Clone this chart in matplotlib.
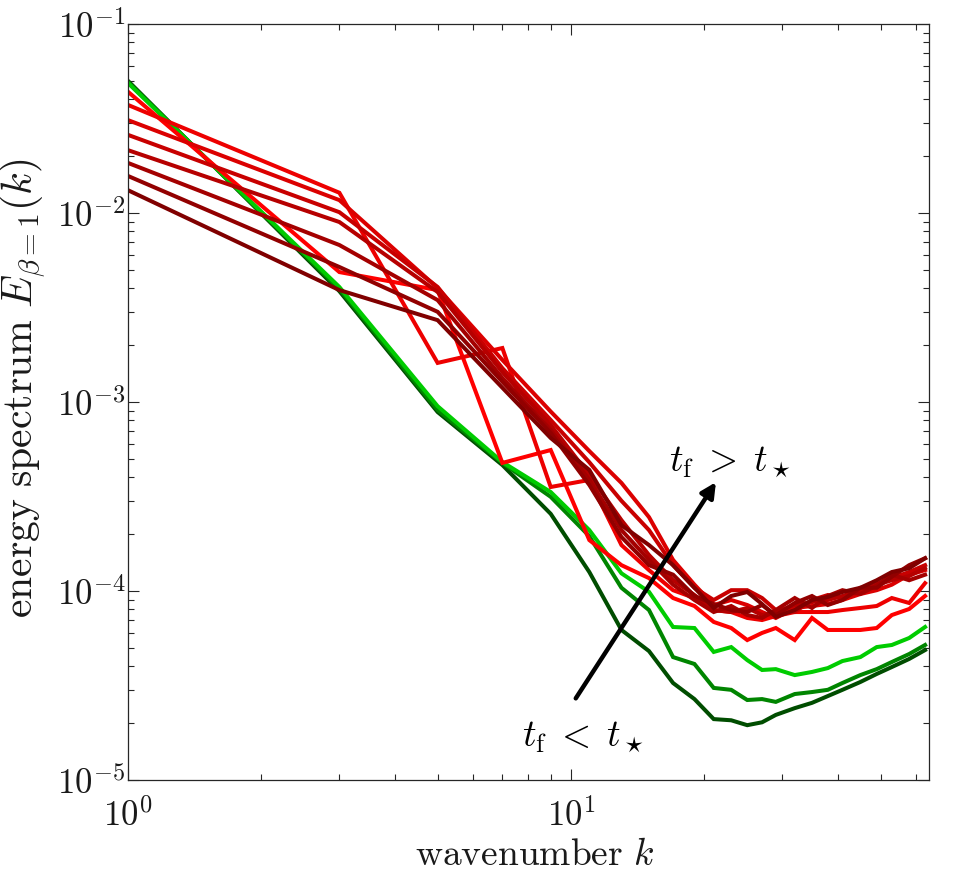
import numpy as np
import matplotlib
matplotlib.use("Agg")
import matplotlib.pyplot as plt
from matplotlib.ticker import FuncFormatter, LogLocator, NullFormatter

plt.rcParams['mathtext.fontset'] = 'cm'
plt.rcParams['font.family'] = ['DejaVu Serif']

# wavenumbers
k = [1, 3, 5, 7, 9, 11, 13, 15, 17, 19, 21, 23, 25, 27, 29, 32, 35, 38, 41, 45, 49, 53, 58, 63]

# green spectra (t_f < t_star), dark -> bright
green_dark = [5.0e-2, 3.86e-3, 8.85e-4, 4.64e-4, 2.56e-4, 1.26e-4, 6.22e-5, 4.81e-5, 3.26e-5, 2.68e-5,
              2.10e-5, 2.07e-5, 1.95e-5, 2.02e-5, 2.21e-5, 2.40e-5, 2.56e-5, 2.78e-5, 3.0e-5, 3.3e-5,
              3.64e-5, 3.96e-5, 4.37e-5, 4.87e-5]
green_mid = [4.93e-2, 3.96e-3, 9.07e-4, 4.76e-4, 3.15e-4, 1.95e-4, 1.04e-4, 7.93e-5, 4.47e-5, 4.11e-5,
             3.07e-5, 3.0e-5, 2.65e-5, 2.68e-5, 2.59e-5, 2.85e-5, 2.92e-5, 3.0e-5, 3.26e-5, 3.59e-5,
             3.86e-5, 4.21e-5, 4.64e-5, 5.18e-5]
green_bright = [4.87e-2, 4.06e-3, 9.5e-4, 4.81e-4, 3.34e-4, 2.1e-4, 1.24e-4, 9.9e-5, 6.45e-5, 6.37e-5,
                4.76e-5, 5.05e-5, 4.31e-5, 3.82e-5, 3.86e-5, 3.59e-5, 3.73e-5, 3.91e-5, 4.26e-5, 4.47e-5,
                5.05e-5, 5.18e-5, 5.64e-5, 6.45e-5]

# red spectra (t_f > t_star), bright -> dark
red_1 = [4.38e-2, 4.87e-3, 3.91e-3, 4.76e-4, 5.57e-4, 1.86e-4, 1.37e-4, 1.17e-4, 9.18e-5, 8.33e-5,
         6.86e-5, 6.37e-5, 5.5e-5, 6.0e-5, 6.37e-5, 5.5e-5, 7.2e-5, 6.22e-5, 6.22e-5, 6.22e-5,
         6.37e-5, 7.46e-5, 8.03e-5, 9.41e-5]
red_2 = [3.73e-2, 1.28e-2, 1.61e-3, 1.93e-3, 3.55e-4, 3.87e-4, 1.75e-4, 1.29e-4, 1.01e-4, 9.18e-5,
         7.93e-5, 7.74e-5, 7.2e-5, 7.02e-5, 7.37e-5, 7.74e-5, 7.74e-5, 7.74e-5, 7.93e-5, 8.13e-5,
         8.33e-5, 9.18e-5, 8.64e-5, 1.1e-4]
red_3 = [3.1e-2, 1.17e-2, 4.01e-3, 1.67e-3, 8.9e-4, 5.5e-4, 3.73e-4, 2.46e-4, 1.46e-4, 1.08e-4,
         8.43e-5, 8.96e-5, 8.43e-5, 7.74e-5, 7.2e-5, 8.13e-5, 8.33e-5, 8.53e-5, 8.96e-5, 9.64e-5,
         1.01e-4, 1.08e-4, 1.22e-4, 1.29e-4]
red_4 = [2.59e-2, 1.01e-2, 4.06e-3, 1.51e-3, 8.03e-4, 4.8e-4, 3.0e-4, 2.1e-4, 1.37e-4, 1.04e-4,
         8.96e-5, 1.01e-4, 1.01e-4, 9.18e-5, 7.93e-5, 7.74e-5, 8.96e-5, 9.52e-5, 9.18e-5, 9.88e-5,
         1.09e-4, 1.17e-4, 1.26e-4, 1.37e-4]
red_5 = [2.15e-2, 8.96e-3, 3.82e-3, 1.44e-3, 7.55e-4, 4.11e-4, 2.37e-4, 1.55e-4, 1.14e-4, 9.52e-5,
         7.93e-5, 7.74e-5, 8.13e-5, 7.46e-5, 7.74e-5, 8.43e-5, 8.74e-5, 8.96e-5, 9.41e-5, 1.01e-4,
         1.08e-4, 1.14e-4, 1.2e-4, 1.32e-4]
red_6 = [1.84e-2, 6.77e-3, 3.46e-3, 1.34e-3, 7.11e-4, 3.87e-4, 2.1e-4, 1.46e-4, 1.08e-4, 8.96e-5,
         7.74e-5, 8.33e-5, 7.46e-5, 7.2e-5, 7.93e-5, 9.18e-5, 8.13e-5, 9.41e-5, 1.01e-4, 9.64e-5,
         1.07e-4, 1.22e-4, 1.14e-4, 1.22e-4]
red_7 = [1.57e-2, 5.18e-3, 3.0e-3, 1.28e-3, 6.86e-4, 3.64e-4, 1.93e-4, 1.37e-4, 1.22e-4, 9.41e-5,
         8.53e-5, 7.93e-5, 7.74e-5, 8.43e-5, 7.46e-5, 8.64e-5, 9.41e-5, 8.43e-5, 8.96e-5, 1.04e-4,
         1.04e-4, 1.19e-4, 1.37e-4, 1.49e-4]
red_8 = [1.32e-2, 3.91e-3, 2.71e-3, 1.19e-3, 6.45e-4, 4.37e-4, 2.23e-4, 1.75e-4, 1.37e-4, 1.04e-4,
         8.13e-5, 9.41e-5, 9.88e-5, 8.53e-5, 7.29e-5, 7.93e-5, 8.96e-5, 9.3e-5, 9.88e-5, 1.04e-4,
         1.14e-4, 1.26e-4, 1.32e-4, 1.49e-4]

greens = [green_dark, green_mid, green_bright]
green_colors = [(0.0, 0.30, 0.0), (0.0, 0.52, 0.0), (0.0, 0.80, 0.0)]
reds = [red_1, red_2, red_3, red_4, red_5, red_6, red_7, red_8]
red_levels = np.linspace(1.0, 0.5, len(reds))

fig = plt.figure(figsize=(9.59, 8.75), dpi=100)
ax = fig.add_axes([128 / 959, 1 - 780 / 875, (929 - 128) / 959, (780 - 24) / 875])

lw = 2.9
for vals, c in zip(greens, green_colors):
    ax.plot(k, vals, color=c, lw=lw, solid_joinstyle='miter')
for vals, r in zip(reds, red_levels):
    ax.plot(k, vals, color=(r, 0.0, 0.0), lw=lw, solid_joinstyle='miter')

ax.set_xscale('log')
ax.set_yscale('log')
ax.set_xlim(1, 64.3)
ax.set_ylim(1e-5, 1e-1)

ax.xaxis.set_major_locator(LogLocator(base=10, numticks=10))
ax.yaxis.set_major_locator(LogLocator(base=10, numticks=10))
ax.xaxis.set_minor_locator(LogLocator(base=10, subs=np.arange(2, 10), numticks=20))
ax.yaxis.set_minor_locator(LogLocator(base=10, subs=np.arange(2, 10), numticks=20))
fmt = FuncFormatter(lambda v, p: r'$10^{%d}$' % int(round(np.log10(v))))
ax.xaxis.set_major_formatter(fmt)
ax.yaxis.set_major_formatter(fmt)
ax.xaxis.set_minor_formatter(NullFormatter())
ax.yaxis.set_minor_formatter(NullFormatter())

edge = (0.15, 0.15, 0.15)
txt = (0.1, 0.1, 0.1)
for s in ax.spines.values():
    s.set_color(edge)
    s.set_linewidth(0.9)
ax.tick_params(which='both', direction='in', top=True, right=True, color=edge, width=0.8,
               labelsize=25, labelcolor=txt)
ax.tick_params(which='major', length=8)
ax.tick_params(which='minor', length=4.5)
ax.tick_params(axis='y', which='major', pad=2)
ax.tick_params(axis='x', which='major', pad=13)

ax.set_xlabel(r'$\mathrm{wavenumber}\ k$', fontsize=27, color=txt)
ax.xaxis.set_label_coords(0.508, -0.076)
ax.set_ylabel(r'$\mathrm{energy\ spectrum}\ E_{\beta=1}(k)$', fontsize=30, color=txt)
ax.yaxis.set_label_coords(-0.1, 0.518)

ax.annotate('', xy=(0.734, 0.394), xytext=(0.559, 0.108), xycoords='axes fraction',
            textcoords='axes fraction',
            arrowprops=dict(arrowstyle='-|>', color='black', lw=3.2, mutation_scale=22,
                            shrinkA=0, shrinkB=0))
ax.text(0.752, 0.421, r'$t_\mathrm{f}\;>\;t_\star$', transform=ax.transAxes, fontsize=27,
        ha='center', va='center')
ax.text(0.568, 0.057, r'$t_\mathrm{f}\;<\;t_\star$', transform=ax.transAxes, fontsize=27,
        ha='center', va='center')

fig.savefig('out.png', dpi=100, facecolor='white')
